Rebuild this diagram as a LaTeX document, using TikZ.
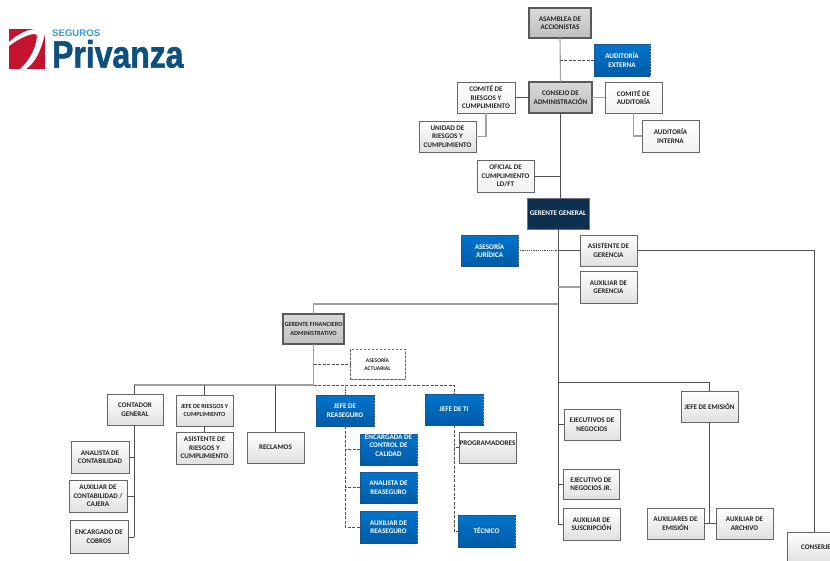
\documentclass[tikz,border=0pt]{standalone}
\usepackage{fontspec}
\setmainfont{Carlito}
\newfontfamily\logofont[FakeBold=1.6]{Liberation Sans}
\newfontfamily\logotopfont{Liberation Sans}
\usetikzlibrary{shadows}
\definecolor{lined}{HTML}{505050}
\definecolor{lineg}{HTML}{A0A0A0}
\definecolor{logored}{HTML}{C4122F}
\definecolor{logoblue}{HTML}{0D5080}
\definecolor{logosky}{HTML}{3A9AD9}
\definecolor{bluetop}{HTML}{0074CC}
\definecolor{bluebot}{HTML}{005CA8}
\definecolor{blueedge}{HTML}{1F4E79}
\definecolor{navyfill}{HTML}{0E3050}
\tikzset{
 base/.style={inner sep=0pt,outer sep=0pt,align=center,font=\bfseries\fontsize{7.1}{8.5}\selectfont,text=black!85,
   drop shadow={shadow xshift=1pt,shadow yshift=-1pt,opacity=.25,fill=black}},
 small63/.style={font=\bfseries\fontsize{6.3}{8.2}\selectfont},
 small62/.style={font=\bfseries\fontsize{6.2}{8}\selectfont},
 small56/.style={font=\bfseries\fontsize{5.6}{8}\selectfont},
 plain/.style={base,draw=black!60,line width=.8pt,top color=white,bottom color=white!95!black},
 soft/.style={base,draw=black!60,line width=1pt,top color=white,bottom color=white!88!black},
 grey/.style={base,draw=black!65,line width=1.6pt,top color=white!85!black,bottom color=white!75!black},
 bluebox/.style={base,draw=blueedge,dash pattern=on 2pt off 1pt,line width=.6pt,top color=bluetop,bottom color=bluebot,text=white},
 navy/.style={base,draw=black!55,line width=.8pt,fill=navyfill,text=white},
 dashbox/.style={base,draw=black!60,dash pattern=on 2.5pt off 1.5pt,line width=.8pt,fill=white},
 solidd/.style={draw=lined,line width=.8pt},
 solidg/.style={draw=lineg,line width=1.1pt},
 dashl/.style={draw=lined,line width=.8pt,dash pattern=on 3pt off 1.5pt},
 dotl/.style={draw=lined,line width=.6pt,dash pattern=on 1.2pt off 1pt},
}
\newcommand{\bx}[7]{\node[#1,minimum width={(#4-#3)*1pt},minimum height={(#6-#5)*1pt}] (#2) at ({(#3+#4)/2},{(#5+#6)/2}) {#7};}
\begin{document}
\begin{tikzpicture}[x=1pt,y=-1pt]
\useasboundingbox (0,0) rectangle (830,560);
% logo
\begin{scope}
\clip (9,29) rectangle (45,69);
\fill[logored] (9,29) rectangle (45,69);
\fill[white] (9,42) .. controls (18,34) and (26,30) .. (35,29) -- (45,29) -- (45,34) .. controls (41,50) and (36,62) .. (26,69) -- (20,69) .. controls (30,60) and (36,48) .. (37,36) .. controls (37,31) and (22,36) .. (9,46) -- cycle;
\end{scope}
\node[inner sep=0pt,anchor=west,text=logosky,font=\logotopfont\bfseries\fontsize{9.6}{10}\selectfont] (logotop) at (52,33.5) {SEGUROS};
\node[inner sep=0pt,anchor=west,text=logoblue,font=\logofont\bfseries\fontsize{38}{39}\selectfont,xscale=.84] (logomain) at (52,54) {Privanza};
% boxes
\bx{grey}{asam}{529}{591}{8}{38}{ASAMBLEA DE\\ACCIONISTAS}
\bx{bluebox}{aext}{594}{650}{44}{76}{AUDITORÍA\\EXTERNA}
\bx{grey}{cons}{529}{592}{82}{113}{CONSEJO DE\\ADMINISTRACIÓN}
\bx{plain}{crie}{457}{515}{82}{113}{COMITÉ DE\\RIESGOS Y\\CUMPLIMIENTO}
\bx{soft}{unid}{419}{476}{121}{152}{UNIDAD DE\\RIESGOS Y\\CUMPLIMIENTO}
\bx{plain}{caud}{605}{662}{82}{113}{COMITÉ DE\\AUDITORÍA}
\bx{plain}{aint}{642}{699}{120}{152}{AUDITORÍA\\INTERNA}
\bx{plain}{ofic}{477}{534}{160}{192}{OFICIAL DE\\CUMPLIMIENTO\\LD/FT}
\bx{navy}{gg}{527}{589}{198}{229}{GERENTE GENERAL}
\bx{bluebox}{ajur}{461}{518}{235}{266}{ASESORÍA\\JURÍDICA}
\bx{soft}{asis}{580}{637}{235}{266}{ASISTENTE DE\\GERENCIA}
\bx{soft}{auxg}{580}{637}{271}{303}{AUXILIAR DE\\GERENCIA}
\bx{grey,small63}{gfin}{283}{344}{314}{344}{GERENTE FINANCIERO\\ADMINISTRATIVO}
\bx{dashbox,small56}{aact}{350}{405}{349}{379}{ASESORÍA\\ACTUARIAL}
\bx{bluebox}{jrea}{316}{374}{395}{426}{JEFE DE\\REASEGURO}
\bx{bluebox}{jti}{425}{483}{394}{425}{JEFE DE TI}
\bx{soft}{cont}{107}{163}{394}{425}{CONTADOR\\GENERAL}
\bx{soft,small62}{jrie}{176}{233}{395}{426}{JEFE DE RIESGOS Y\\CUMPLIMIENTO}
\bx{soft}{arie}{176}{233}{432}{464}{ASISTENTE DE\\RIESGOS Y\\CUMPLIMIENTO}
\bx{soft}{recl}{247}{304}{432}{463}{RECLAMOS}
\bx{soft}{acon}{71}{129}{441}{473}{ANALISTA DE\\CONTABILIDAD}
\bx{soft}{auxc}{69}{127}{480}{512}{AUXILIAR DE\\CONTABILIDAD /\\CAJERA}
\bx{soft}{enco}{70}{128}{520}{553}{ENCARGADO DE\\COBROS}
\bx{bluebox}{enca}{360}{417}{434}{465}{ENCARGADA DE\\CONTROL DE\\CALIDAD\\}
\bx{bluebox}{anre}{360}{417}{472}{503}{ANALISTA DE\\REASEGURO}
\bx{bluebox}{aure}{360}{417}{511}{543}{AUXILIAR DE\\REASEGURO}
\bx{soft}{prog}{459}{516}{432}{463}{PROGRAMADORES\\}
\bx{bluebox}{tecn}{458}{515}{515}{547}{TÉCNICO}
\bx{soft}{ejec}{564}{620}{409}{440}{EJECUTIVOS DE\\NEGOCIOS}
\bx{soft}{ejjr}{563}{619}{469}{499}{EJECUTIVO DE\\NEGOCIOS JR.}
\bx{soft}{ausu}{563}{620}{508}{540}{AUXILIAR DE\\SUSCRIPCIÓN}
\bx{soft}{jemi}{681}{738}{391}{422}{JEFE DE EMISIÓN}
\bx{soft}{auem}{647}{704}{508}{539}{AUXILIARES DE\\EMISIÓN}
\bx{soft}{auar}{716}{773}{508}{539}{AUXILIAR DE\\ARCHIVO}
\bx{soft}{cnsj}{787}{845}{532}{563}{CONSERJE}
% junctions
\coordinate (busgf) at (558,304);
\coordinate (busem) at (558,382.5);
\coordinate (busfi) at (313.5,385);
\coordinate (trcon) at (134,385);
\coordinate (trcob) at (134,537);
\coordinate (trem) at (710,524);
\coordinate (trcnsj) at (814,532);
% connectors
\path[solidg] (asam.south) -- (cons.north);
\path[dashl] (aext.west) -- (aext.west -| asam.south);
\path[solidd] (crie.east) -- (cons.west);
\path[solidg] (cons.east) -- (caud.west);
\path[solidg] (crie.south) |- (unid.east);
\path[solidg] (caud.south) |- (aint.west);
\path[solidd,line width=1pt] (cons.south) -- (cons.south |- gg.north);
\path[solidd] (ofic.east) -- (ofic.east -| cons.south);
\path[solidd,line width=.9pt] (gg.south) |- (ausu.west);
\path[dotl] (ajur.east) -- (ajur.east -| gg.south);
\path[solidd] (ajur.east -| gg.south) -- (asis.west);
\path[solidg] (auxg.west) -- (auxg.west -| gg.south);
\path[solidd] (asis.east) -| (trcnsj);
\path[solidg] (busgf) -| (gfin.north);
\path[solidd] (busem) -| (jemi.north);
\path[solidd] (ejec.west) -- (ejec.west -| gg.south);
\path[solidd] (ejjr.west) -- (ejjr.west -| gg.south);
\path[solidd] (jemi.south) -- (jemi.south |- trem);
\path[solidd] (auem.east) -- (auar.west);
\path[solidg] (gfin.south) -- (busfi);
\path[dashl] (busfi |- aact.west) -- (aact.west);
\path[solidg] (busfi) -- (trcon);
\path[solidd] (trcon) -- (trcon |- cont.north);
\path[solidd] (jrie.north |- busfi) -- (jrie.north);
\path[solidd] (recl.north |- busfi) -- (recl.north);
\path[dashl] (busfi) -| (jti.north);
\path[dotl] (jrea.north |- busfi) -- (jrea.north);
\path[solidd] (jrie.south) -- (arie.north);
\path[solidd] (trcon |- cont.south) -- (trcob);
\path[solidd] (acon.east) -- (acon.east -| trcon);
\path[solidd] (auxc.east) -- (auxc.east -| trcon);
\path[solidd] (trcob) -- (trcob -| enco.east);
\path[dashl] (jrea.south) |- (aure.west);
\path[dashl] (enca.west) -- (enca.west -| jrea.south);
\path[dashl] (anre.west) -- (anre.west -| jrea.south);
\path[dashl] (jti.south) |- (tecn.west);
\path[dashl] (prog.west) -- (prog.west -| jti.south);
\end{tikzpicture}
\end{document}
